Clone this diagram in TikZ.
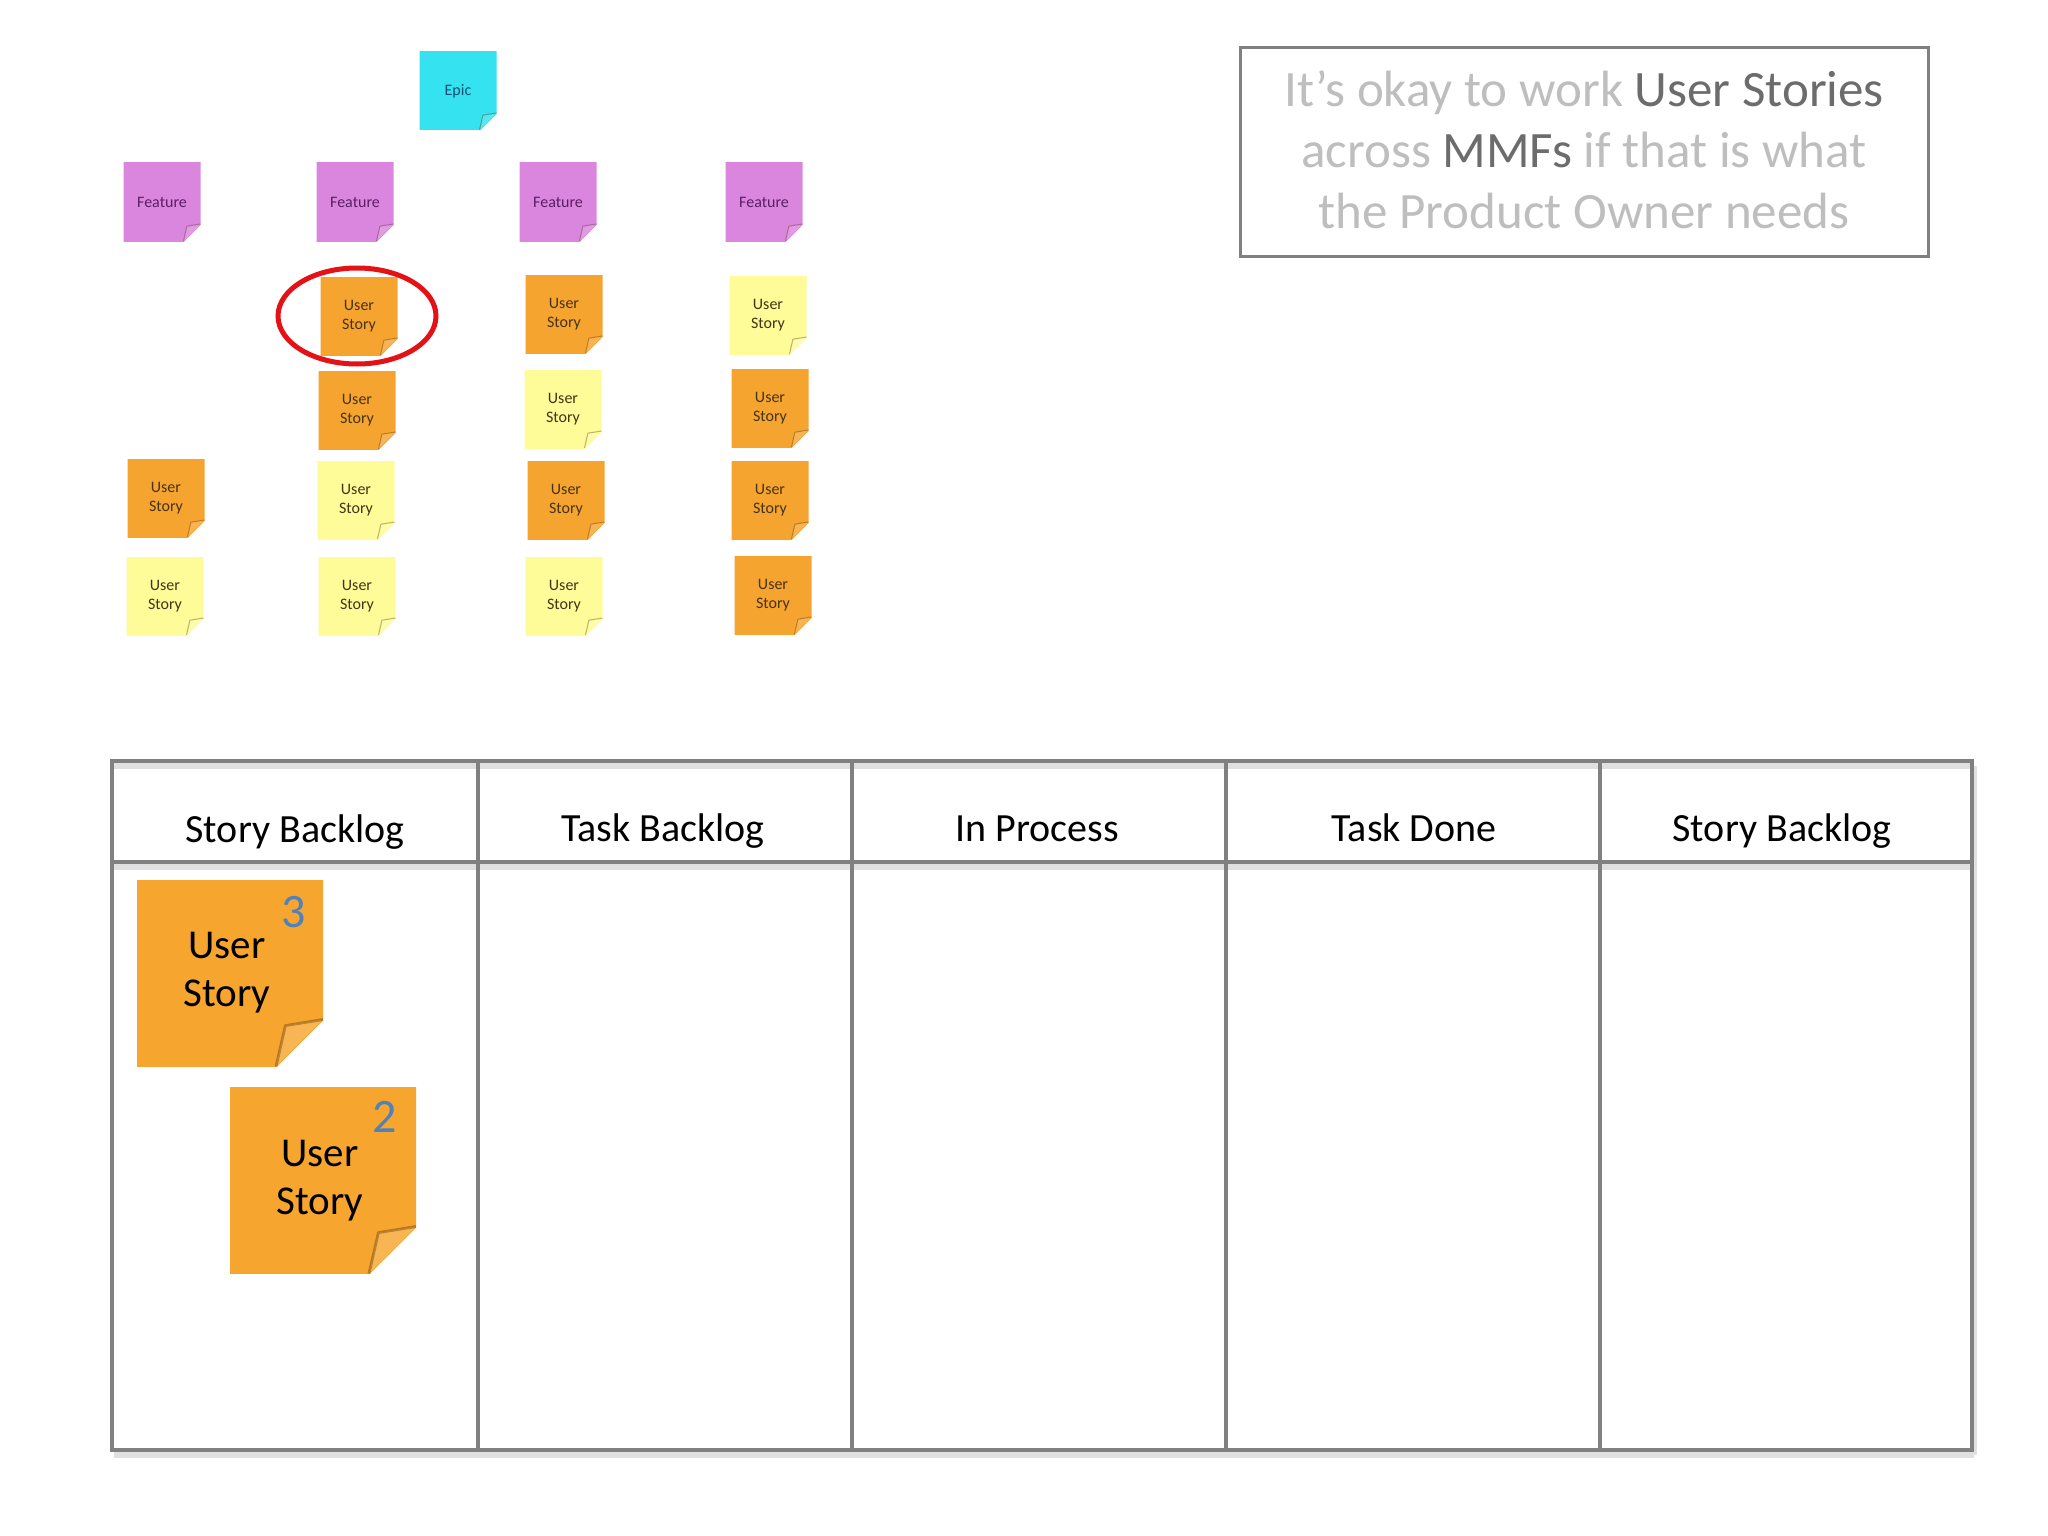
\documentclass[tikz,border=0pt]{standalone}
\usepackage{fontspec}
\setmainfont{Carlito}
\definecolor{stOrange}{RGB}{246,164,48}
\definecolor{stYellow}{RGB}{253,252,152}
\definecolor{stPink}{RGB}{218,134,222}
\definecolor{stCyan}{RGB}{52,226,240}
\definecolor{bigOrange}{RGB}{246,165,46}
\definecolor{gridgray}{RGB}{128,128,128}
\definecolor{lightTxt}{RGB}{190,190,190}
\definecolor{darkTxt}{RGB}{108,108,108}
\definecolor{numBlue}{RGB}{79,129,189}
\definecolor{circRed}{RGB}{228,18,22}
\definecolor{noteTxt}{RGB}{70,50,20}
\definecolor{featTxt}{RGB}{90,30,100}
\definecolor{epicTxt}{RGB}{20,80,120}
\tikzset{
  notecol/.initial=white,
  foldcorner/.style={path picture={
    \coordinate (fc) at (path picture bounding box.south east);
    \coordinate (fsw) at (path picture bounding box.south west);
    \coordinate (fne) at (path picture bounding box.north east);
    \fill[fill=\pgfkeysvalueof{/tikz/notecol}] ([xshift=-1pt,yshift=-1pt]fsw) |- ([xshift=1pt,yshift=1pt]fne)
       -- ([xshift=1pt,yshift=#1]fc) -- ([xshift=-#1,yshift=-1pt]fc) -- cycle;
    \fill[white,opacity=0.18] ([xshift=-#1]fc) -- ([yshift=#1]fc) -- ([xshift=-0.8*#1,yshift=0.87*#1]fc) -- cycle;
    \draw[black!70!orange,opacity=0.35,line width=0.06*#1,line join=round] ([yshift=#1]fc) -- ([xshift=-0.8*#1,yshift=0.87*#1]fc) -- ([xshift=-#1]fc);
  }},
  smallnote/.style={rectangle, minimum width=77pt, minimum height=78pt, inner sep=0pt,
    align=center, font=\fontsize{16}{19}\selectfont, text=noteTxt, foldcorner=17pt},
  onote/.style={smallnote, notecol=stOrange},
  ynote/.style={smallnote, notecol=stYellow},
  fnote/.style={smallnote, notecol=stPink, text=featTxt},
  enote/.style={smallnote, notecol=stCyan, text=epicTxt},
  bignote/.style={rectangle, minimum width=186pt, minimum height=186pt, inner sep=0pt,
    notecol=bigOrange, foldcorner=47pt},
  bigtxt/.style={align=center, font=\fontsize{41}{48}\selectfont, text=black},
  numtxt/.style={font=\fontsize{48}{50}\selectfont, text=numBlue},
  hdr/.style={anchor=base, font=\fontsize{40}{48}\selectfont, text=black},
  gridline/.style={draw=gridgray, line width=3.5pt},
  shadowline/.style={draw=black!12, line width=6pt},
}
\begin{document}
\begin{tikzpicture}[x=1pt,y=-1pt]
\useasboundingbox[fill=white] (0,0) rectangle (2048,1536);

% Epic and features
\node[enote] (epic) at (458,91) {Epic};
\node[fnote] (f1) at (162,202) {Feature};
\node[fnote] (f2) at (355,202) {Feature};
\node[fnote] (f3) at (558,202) {Feature};
\node[fnote] (f4) at (764,202) {Feature};

% user stories
\node[onote] (s12) at (359,316) {User\\Story};
\node[onote] (s13) at (564,314) {User\\Story};
\node[ynote] (s14) at (768,315) {User\\Story};

\node[onote] (s22) at (357,410) {User\\Story};
\node[ynote] (s23) at (563,409) {User\\Story};
\node[onote] (s24) at (770,408) {User\\Story};

\node[onote] (s31) at (166,498) {User\\Story};
\node[ynote] (s32) at (356,500) {User\\Story};
\node[onote] (s33) at (566,500) {User\\Story};
\node[onote] (s34) at (770,500) {User\\Story};

\node[ynote] (s41) at (165,596) {User\\Story};
\node[ynote] (s42) at (357,596) {User\\Story};
\node[ynote] (s43) at (564,596) {User\\Story};
\node[onote] (s44) at (773,595) {User\\Story};

% red circle
\draw[circRed, line width=5pt] (357,316) ellipse [x radius=79, y radius=48];

% message box
\node[draw=gridgray, line width=3pt, minimum width=688pt, minimum height=208pt, inner sep=0pt] (msgbox) at (1584,152) {};
\node[align=center, text=lightTxt, font=\fontsize{51}{61}\selectfont] (msg) at (1584,150)
  {It’s okay to work \textcolor{darkTxt}{User Stories}\\
   across \textcolor{darkTxt}{MMFs} if that is what\\
   the Product Owner needs};

% board shadows
\begin{scope}[shift={(2,5)}]
\draw[shadowline] (112,761) -- (1972,761);
\draw[shadowline] (112,862) -- (1972,862);
\draw[shadowline] (112,1450) -- (1972,1450);
\draw[shadowline] (1972,761) -- (1972,1450);
\end{scope}
% board
\draw[gridline] (112,761) rectangle (1972,1450);
\draw[gridline] (112,862) -- (1972,862);
\foreach \xx in {478,852,1226,1600} { \draw[gridline] (\xx,761) -- (\xx,1450); }

\node[hdr] (h1) at (295,842) {Story Backlog};
\node[hdr] (h2) at (663,841) {Task Backlog};
\node[hdr] (h3) at (1037,841) {In Process};
\node[hdr] (h4) at (1414,841) {Task Done};
\node[hdr] (h5) at (1782,841) {Story Backlog};

% big notes
\node[bignote] (b1) at (230,973.5) {};
\node[bigtxt] (b1t) at (227,973) {User\\Story};
\node[numtxt] (b1n) at (294,912) {3};
\node[bignote] (b2) at (323,1180.5) {};
\node[bigtxt] (b2t) at (320,1181) {User\\Story};
\node[numtxt] (b2n) at (385,1117) {2};
\end{tikzpicture}
\end{document}
